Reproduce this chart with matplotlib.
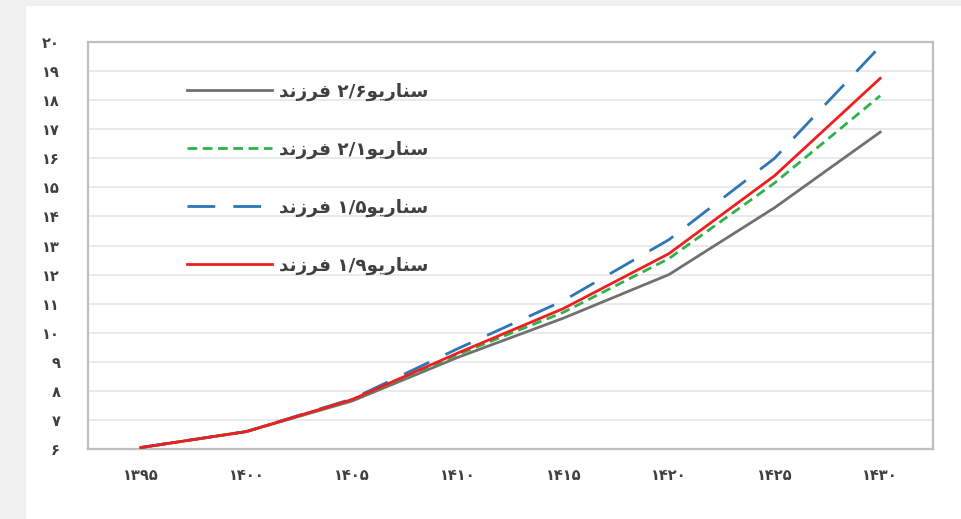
import matplotlib
matplotlib.use("Agg")
import matplotlib.pyplot as plt
from matplotlib.patches import Rectangle

plt.rcParams['font.family'] = ['DejaVu Sans']

# ---- data ----
years = ['۱۳۹۵', '۱۴۰۰', '۱۴۰۵', '۱۴۱۰', '۱۴۱۵', '۱۴۲۰', '۱۴۲۵', '۱۴۳۰']
s26 = [6.05, 6.6, 7.65, 9.15, 10.5, 12.0, 14.3, 16.9]
s21 = [6.05, 6.6, 7.7, 9.25, 10.7, 12.55, 15.15, 18.15]
s15 = [6.05, 6.6, 7.72, 9.45, 11.1, 13.2, 16.0, 19.85]
s19 = [6.05, 6.6, 7.7, 9.3, 10.83, 12.72, 15.4, 18.75]
yticks = list(range(6, 21))
pdig = '۰۱۲۳۴۵۶۷۸۹'
ytick_labels = [''.join(pdig[int(c)] for c in str(v)) for v in yticks]

# visual (pre-shaped, LTR display order) Persian labels
farzand = '\uFEAA\uFEE7\uFEAF\uFEAE\uFED3'
senario = '\uFEEE\uFBFE\uFEAD\uFE8E\uFEE8\uFEB3'
def lab(num):
    return farzand + ' ' + num + senario
labels = [lab('۲/۶'), lab('۲/۱'), lab('۱/۵'), lab('۱/۹')]

fig = plt.figure(figsize=(9.62, 5.19), dpi=100, facecolor='white')
fig.patches.append(Rectangle((0, 0), 26/962, 1, transform=fig.transFigure,
                             facecolor='#f0f0f0', edgecolor='none', zorder=-5))
fig.patches.append(Rectangle((0, 1-6/519), 1, 6/519, transform=fig.transFigure,
                             facecolor='#f0f0f0', edgecolor='none', zorder=-5))
ax = fig.add_axes([88/962, 1-449/519, (933-88)/962, (449-42)/519])

x = list(range(len(years)))
ax.plot(x, s26, color='#707070', lw=2.0, label=labels[0], zorder=3)
ax.plot(x, s21, color='#2db34a', lw=2.0, ls=(0, (3.5, 2.0)), label=labels[1], zorder=4)
ax.plot(x, s15, color='#2e75b6', lw=2.0, ls=(0, (10, 6.5)), label=labels[2], zorder=5)
ax.plot(x, s19, color='#f01e1e', lw=2.0, label=labels[3], zorder=6)

ax.set_xlim(-0.5, 7.5)
ax.set_ylim(6, 20)
ax.set_xticks(x)
ax.set_xticklabels(years)
ax.set_yticks(yticks)
ax.set_yticklabels(ytick_labels)
ax.tick_params(axis='both', length=0, labelsize=10.5, colors='#404040')
ax.tick_params(axis='y', pad=20)
ax.tick_params(axis='x', pad=14)
for t in ax.get_xticklabels() + ax.get_yticklabels():
    t.set_fontweight('bold')
ax.grid(axis='y', color='#e6e6e6', lw=1.2)
ax.set_axisbelow(True)
for sp in ax.spines.values():
    sp.set_color('#bfbfbf')
    sp.set_linewidth(1.6)

fs = 13.2
hl = 85 / (fs * 100 / 72)
leg = ax.legend(loc='upper left', bbox_to_anchor=(0.117, 0.9), frameon=False,
                borderaxespad=0, borderpad=0, handlelength=hl, handletextpad=0.4,
                labelspacing=2.17, prop={'size': fs, 'weight': 'bold'})
for t in leg.get_texts():
    t.set_color('#404040')

fig.savefig('out.png', dpi=100, facecolor=fig.get_facecolor())
